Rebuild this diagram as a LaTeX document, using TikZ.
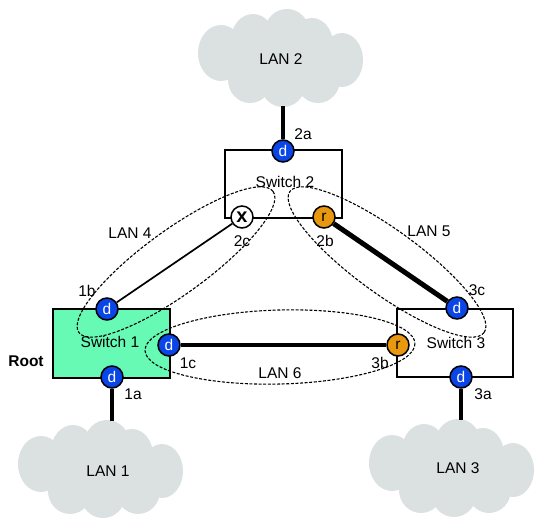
\documentclass[tikz,border=0pt]{standalone}
\usepackage{fontspec}
\setmainfont{Liberation Sans}
\definecolor{cloudgrey}{HTML}{DBE1E1}
\definecolor{portblue}{HTML}{0A45E8}
\definecolor{portorange}{HTML}{E8980F}
\definecolor{rootgreen}{HTML}{66FAB4}
\tikzset{
  txt/.style={inner sep=0pt,font=\fontsize{15.5}{17}\selectfont},
  switchbox/.style={draw=black,line width=2.6pt,fill=white,inner sep=0pt,outer sep=0pt,anchor=north west},
  portd/.style={circle,draw=black,line width=1.5pt,fill=portblue,text=white,minimum size=22pt,inner sep=0pt,font=\fontsize{15.5}{17}\selectfont},
  portr/.style={portd,fill=portorange,text=black},
  portx/.style={portd,fill=white,text=black,font=\fontsize{20}{20}\selectfont\bfseries},
  lanring/.style={draw=black,line width=1.1pt,dash pattern=on 3pt off 1.6pt},
  uplink/.style={line width=4.3pt,draw=black},
  thinlink/.style={line width=1.7pt,draw=black},
  medlink/.style={line width=3.6pt,draw=black},
  thicklink/.style={line width=5pt,draw=black}
}
\newcommand{\lancloud}[2]{%
  \begin{scope}[shift={(#1,#2)}]
    \foreach \cx/\cy/\rx/\ry in {221/53/23/28, 253/40/22/26, 287/31/22/22, 312/44/21/26, 342/60/21/27, 250/80/22/23, 283/85/22/22, 318/80/22/23, 281/60/50/30}
      \fill[cloudgrey] (\cx,\cy) ellipse [x radius=\rx, y radius=\ry];
  \end{scope}}
\begin{document}
\begin{tikzpicture}[x=1pt,y=-1pt]
\useasboundingbox (0,0) rectangle (543,527);
% clouds
\lancloud{0}{0}
\lancloud{-180}{411}
\lancloud{171}{410}
\node[txt] (lan2) at (281,59) {LAN 2};
\node[txt] (lan1) at (108,471) {LAN 1};
\node[txt] (lan3) at (458,468) {LAN 3};
\coordinate (c2) at (283,106);
\coordinate (c1) at (112,421);
\coordinate (c3) at (461,420);
% switches
\node[switchbox,minimum width=117pt,minimum height=68pt] (sw2) at (225,150) {};
\node[switchbox,fill=rootgreen,minimum width=117pt,minimum height=69pt] (sw1) at (53,309) {};
\node[switchbox,minimum width=116pt,minimum height=68pt] (sw3) at (397,309) {};
\node[txt] (t2) at (285,182) {Switch 2};
\node[txt] (t1) at (110,342) {Switch 1};
\node[txt] (t3) at (456,343) {Switch 3};
% ports
\node[portd] (p2a) at (283,151) {d};
\node[portx] (p2c) at (242,217) {x};
\node[portr] (p2b) at (324,217) {r};
\node[portd] (p1b) at (107,309) {d};
\node[portd] (p1a) at (112,377) {d};
\node[portd] (p1c) at (169,345) {d};
\node[portr] (p3b) at (398,345) {r};
\node[portd] (p3c) at (457,308) {d};
\node[portd] (p3a) at (461,377) {d};
% links
\draw[uplink] (c2) -- (p2a);
\draw[uplink] (p1a) -- (c1);
\draw[uplink] (p3a) -- (c3);
\draw[thinlink] (p2c) -- (p1b);
\draw[thicklink] (p2b) -- (p3c);
\draw[medlink] (p1c) -- (p3b);
% LAN rings
\draw[lanring,shift={(176,262)},rotate=36] (0,0) ellipse [x radius=120, y radius=32];
\draw[lanring,shift={(387,262)},rotate=-36] (0,0) ellipse [x radius=120, y radius=32];
\draw[lanring,shift={(280,347)},rotate=1.5] (0,0) ellipse [x radius=135, y radius=37];
% labels
\node[txt] (l2a) at (303,134) {2a};
\node[txt] (l2c) at (242,241) {2c};
\node[txt] (l2b) at (325,241) {2b};
\node[txt] (l1b) at (87,291) {1b};
\node[txt] (l1a) at (133,394) {1a};
\node[txt] (l1c) at (188,363) {1c};
\node[txt] (l3b) at (380,363) {3b};
\node[txt] (l3c) at (477,290) {3c};
\node[txt] (l3a) at (483,394) {3a};
\node[txt] (l4) at (130,233) {LAN 4};
\node[txt] (l5) at (429,231) {LAN 5};
\node[txt] (l6) at (280,373) {LAN 6};
\node[txt,font=\fontsize{15.5}{17}\selectfont\bfseries] (root) at (26,361) {Root};
\end{tikzpicture}
\end{document}
